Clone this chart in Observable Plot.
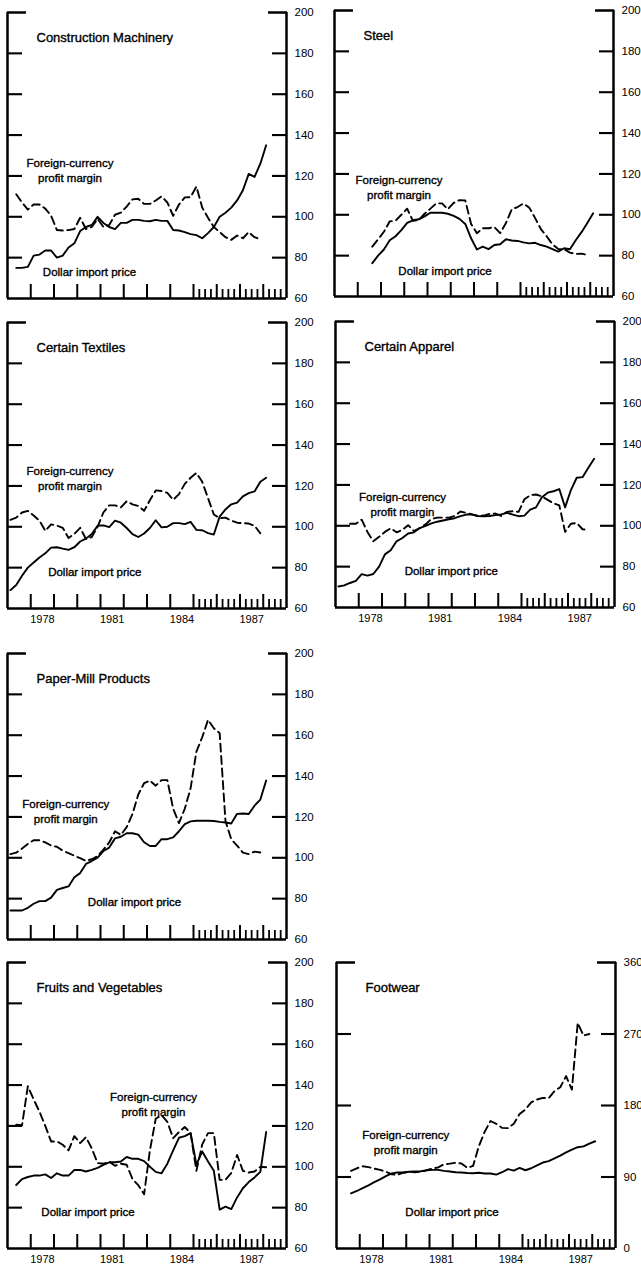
<!DOCTYPE html>
<html>
<head>
<meta charset="utf-8">
<script src="https://cdn.jsdelivr.net/npm/d3@7"></script>
<script src="https://cdn.jsdelivr.net/npm/@observablehq/plot@0.6"></script>
<style>
  html, body { margin: 0; padding: 0; background: #fff; overflow: hidden; }
  #chart { position: relative; width: 641px; height: 1267px; }
  .panel { position: absolute; }
</style>
</head>
<body>
<div id="chart"></div>
<script>
// ---------- Data (quarterly index values) ----------
const titles = ["Construction Machinery", "Steel", "Certain Textiles", "Certain Apparel",
                "Paper-Mill Products", "Fruits and Vegetables", "Footwear"];

const constructionPriceStart = "1977Q2";
const constructionPrice = [75, 75, 75.5, 81, 81.5, 83.5, 83.5, 80, 81, 85, 87, 93, 95, 96, 100, 97, 95, 94, 97, 97, 98.5, 98.5, 98, 97.8, 98.5, 98, 98, 93.5, 93.3, 92.5, 91.5, 91, 89.5, 92, 95, 100, 102, 104.5, 108, 113, 121, 119.5, 126, 135];
const constructionMarginStart = "1977Q2";
const constructionMargin = [111, 107, 103.5, 106, 106, 104, 100.5, 93.5, 93.3, 93.5, 94, 99.5, 94, 95, 99, 95, 96, 101, 102, 105, 108.5, 108.8, 106.3, 106.3, 108, 110, 107, 100.5, 106, 109.5, 109.6, 114.8, 104.5, 99.5, 95, 92.5, 90, 88.7, 90.8, 89.5, 92.5, 90, 89];

const steelPriceStart = "1978Q3";
const steelPrice = [76.3, 80, 83, 87.5, 89.5, 92.5, 96, 97.3, 97.8, 99.2, 101, 101, 101, 100.5, 99.5, 98, 95.5, 88.5, 83, 84.4, 83.2, 85.2, 85.6, 88, 87.4, 87.2, 86.5, 86, 86.3, 85.2, 84.4, 83.2, 82, 83.6, 83.1, 87.5, 91.5, 96, 100.7];
const steelMarginStart = "1978Q3";
const steelMargin = [84.4, 88, 91.7, 96.8, 97.1, 100, 103, 97, 97.5, 100.5, 103, 105.6, 105.6, 102.7, 105.8, 107.2, 107, 95.5, 91, 93.4, 93.4, 94, 91, 96, 102.7, 103.8, 105.5, 103.5, 98.5, 93, 89.5, 85.5, 83.2, 83.2, 81.5, 80.8, 81, 80.3];

const textilesPriceStart = "1977Q1";
const textilesPrice = [69, 71.5, 76, 80, 82.5, 85, 87, 89.8, 90, 89.3, 88.7, 90, 92.8, 94.2, 96.5, 100.5, 100.7, 99.8, 103, 102, 99.4, 96.4, 95, 96.7, 99.4, 103.2, 99.7, 100, 101.8, 101.8, 101.3, 102.4, 98.5, 98.3, 96.9, 96.2, 105, 108.5, 111, 111.8, 114.9, 116.5, 117.3, 122, 124];
const textilesMarginStart = "1977Q1";
const textilesMargin = [103.4, 104.5, 107, 107.8, 105.5, 103, 98, 101.2, 100.6, 99.5, 94.5, 96.5, 99.5, 94, 95, 100, 107, 110.5, 110.5, 109.5, 112.5, 111, 110.2, 107.8, 113, 117.8, 117.5, 116.6, 113.2, 116, 121, 124, 126.3, 122, 114, 106, 104.2, 104.5, 103, 102, 101.8, 101.6, 100.5, 96.8];

const apparelPriceStart = "1977Q1";
const apparelPrice = [70.3, 70.8, 72, 73, 76.3, 75.6, 76.4, 80, 86, 88, 92.4, 94, 96.2, 96.8, 98.9, 100, 101.2, 102, 102.6, 103.2, 103.7, 104.7, 105.5, 105.5, 104.8, 104.6, 104.8, 105.2, 105.6, 106.3, 105.5, 104.7, 105, 107.9, 109, 114, 116.2, 116.9, 118, 109, 117.5, 123.5, 123.8, 128.4, 132.8];
const apparelMarginStart = "1977Q3";
const apparelMargin = [101, 101, 103, 97, 92.4, 94.6, 97, 98.8, 96.8, 98, 100.3, 97.4, 98.9, 100.7, 103.3, 104, 104, 104, 104.8, 107, 106.3, 105.6, 104.8, 105, 105.8, 106, 104.8, 106.8, 107.1, 106.8, 113, 115, 115.3, 114.4, 112.7, 111, 110, 97, 101, 101.4, 98.3, 98];

const paperPriceStart = "1977Q1";
const paperPrice = [74.2, 74.2, 74.2, 75.5, 77.5, 78.8, 78.8, 80.5, 84.3, 85.2, 86, 90.5, 92.5, 97, 98.4, 100.1, 103.3, 105, 109.5, 110.3, 112, 112, 111.3, 107.6, 105.8, 105.8, 109.1, 109.1, 110, 113, 116.5, 117.8, 118.1, 118.1, 118.1, 118, 117.6, 117.3, 116.8, 121.5, 121.7, 121.4, 125.5, 128.5, 137.8];
const paperMarginStart = "1977Q1";
const paperMargin = [101.8, 102.5, 104.5, 106.8, 108.6, 108.6, 107.5, 106, 105.4, 103.5, 102.3, 101, 99.8, 98.5, 99.3, 100.9, 104, 107.5, 113, 111.2, 115, 121.4, 131, 136.5, 137.8, 135.3, 138, 138, 124, 117, 124, 134, 152, 159, 167.5, 163.4, 161, 118, 109, 106, 102.5, 101.8, 103, 102.6];

const fruitsPriceStart = "1977Q2";
const fruitsPrice = [91.1, 94, 95, 95.7, 95.7, 96.3, 94.5, 96.8, 95.7, 95.7, 98.4, 98.5, 97.7, 98.5, 99.5, 100.9, 102.2, 102.2, 102.6, 104.8, 103.9, 103.9, 102.8, 100, 97.5, 96.8, 101.5, 108, 114.2, 115, 116.5, 101, 107.5, 102.6, 98, 79, 80.5, 79.3, 85, 89.5, 92.5, 94.8, 97.5, 117];
const fruitsMarginStart = "1977Q2";
const fruitsMargin = [120.6, 120.3, 139.4, 133, 127, 120, 112.4, 112.4, 110.8, 108, 115, 111.6, 114.5, 109, 101.8, 101.5, 102.5, 100.5, 101.5, 101, 94, 91, 86.5, 108, 123.5, 125.3, 122, 114, 117, 119.5, 116.5, 98, 111, 116.5, 116.5, 93.6, 93.6, 97, 105.8, 98, 97.2, 97.7, 100, 99.8];

const footwearPriceStart = "1977Q3";
const footwearPrice = [69.5, 72.4, 76, 79.5, 83.5, 87, 91, 94.5, 95.6, 95.6, 96.6, 96.9, 97.2, 98.3, 99, 99, 97.7, 97, 96, 95.6, 95, 94.8, 95.3, 94.4, 94.4, 93, 96, 100, 98, 101.5, 98.5, 101, 104.5, 108.2, 110, 113.5, 117, 121, 124.5, 127.5, 128.5, 132, 135];
const footwearMarginStart = "1977Q3";
const footwearMargin = [97.7, 101, 103.5, 102.5, 100.5, 99, 96.5, 93.3, 92.7, 95.4, 96.6, 96, 96.6, 98.5, 100.5, 102.2, 106, 106.8, 108, 107, 101.5, 104, 129, 147, 160.5, 157, 151.8, 151.5, 157, 169.3, 175, 184, 187.5, 189.5, 189.2, 198, 203, 217, 200, 284, 268, 270];

// axis tick values / labels
const yearTicks = [1978, 1979, 1980, 1981, 1982, 1983, 1984, 1985, 1986, 1987, 1988];
const quarterTicks = [1985.25, 1985.5, 1985.75, 1986.25, 1986.5, 1986.75, 1987.25, 1987.5, 1987.75, 1988.25, 1988.5, 1988.75];
const yearLabels = [1978, 1981, 1984, 1987];
const indexTicks = [80, 100, 120, 140, 160, 180];
const indexLabels = [60, 80, 100, 120, 140, 160, 180, 200];
const footwearTicks = [90, 180, 270];
const footwearLabels = [0, 90, 180, 270, 360];
const marginLabel = "Foreign-currency\nprofit margin";
const priceLabel = "Dollar import price";

// ---------- Helpers ----------
function quarterToYear(q) {
  const [y, n] = q.split("Q").map(Number);
  return y + (n - 1) * 0.25 + 0.125;
}
function rows(values, start) {
  const t0 = quarterToYear(start);
  return values.map((v, i) => ({date: t0 + i * 0.25, value: v}));
}

// ---------- Layout ----------
const FONT = "'Liberation Sans', Arial, Helvetica, sans-serif";
const panels = [
  {title: titles[0], price: rows(constructionPrice, constructionPriceStart), margin: rows(constructionMargin, constructionMarginStart),
   left: 0, top: 2, years: false, fc: [62.5, 143.5], dp: [82, 255]},
  {title: titles[1], price: rows(steelPrice, steelPriceStart), margin: rows(steelMargin, steelMarginStart),
   left: 327, top: 0, years: false, fc: [64.5, 163], dp: [110.5, 256]},
  {title: titles[2], price: rows(textilesPrice, textilesPriceStart), margin: rows(textilesMargin, textilesMarginStart),
   left: 0, top: 312, years: true, fc: [62.5, 142], dp: [87.3, 245]},
  {title: titles[3], price: rows(apparelPrice, apparelPriceStart), margin: rows(apparelMargin, apparelMarginStart),
   left: 328, top: 311, years: true, fc: [67, 169.3], dp: [115.8, 245]},
  {title: titles[4], price: rows(paperPrice, paperPriceStart), margin: rows(paperMargin, paperMarginStart),
   left: 0, top: 643, years: false, fc: [58.3, 143.8], dp: [127, 244.3]},
  {title: titles[5], price: rows(fruitsPrice, fruitsPriceStart), margin: rows(fruitsMargin, fruitsMarginStart),
   left: 0, top: 952, years: true, fc: [146, 127.7], dp: [80.5, 245.3]},
  {title: titles[6], price: rows(footwearPrice, footwearPriceStart), margin: rows(footwearMargin, footwearMarginStart),
   left: 329, top: 952, years: true, fc: [69.3, 166.2], dp: [115.5, 245.3], footwear: true}
];

const W = 326, H = 324, ML = 7, MR = 40, MT = 10, MB = 28;
const chart = document.getElementById("chart");
const heavy = {fill: "#000", stroke: "#000", strokeWidth: 0.35};

for (const p of panels) {
  const yDomain = p.footwear ? [0, 360] : [60, 200];
  const ticks = p.footwear ? footwearTicks : indexTicks;
  const labels = p.footwear ? footwearLabels : indexLabels;
  const marks = [
    Plot.ruleX([1977, 1989], {strokeWidth: 2.5, stroke: "#000"}),
    Plot.ruleY([yDomain[0]], {strokeWidth: 2.5, stroke: "#000"}),
    Plot.axisY(ticks, {anchor: "left", tickSize: -15, strokeWidth: 2.1, tickFormat: () => "", label: null}),
    Plot.axisY([yDomain[1]], {anchor: "left", tickSize: -19, strokeWidth: 2.5, tickFormat: () => "", label: null}),
    Plot.axisY(ticks, {anchor: "right", tickSize: -15, strokeWidth: 2.1, tickFormat: () => "", label: null}),
    Plot.axisY([yDomain[1]], {anchor: "right", tickSize: -19, strokeWidth: 2.5, tickFormat: () => "", label: null}),
    Plot.axisY(labels, {anchor: "right", tickSize: 0, tickPadding: 8, fontSize: 11.5, tickFormat: d => String(d), label: null}),
    Plot.axisX(yearTicks, {anchor: "bottom", tickSize: -14, strokeWidth: 2, tickFormat: () => "", label: null}),
    Plot.axisX(quarterTicks, {anchor: "bottom", tickSize: -9, strokeWidth: 1.8, tickFormat: () => "", label: null}),
    Plot.line(p.price, {x: "date", y: "value", stroke: "#000", strokeWidth: 1.9}),
    Plot.line(p.margin, {x: "date", y: "value", stroke: "#000", strokeWidth: 1.9, strokeDasharray: "8,4.5"}),
    Plot.text([p.title], {text: d => d, frameAnchor: "top-left", dx: 29, dy: 20, textAnchor: "start", fontSize: 13, ...heavy}),
    Plot.text([marginLabel], {text: d => d, frameAnchor: "top-left", dx: p.fc[0], dy: p.fc[1], textAnchor: "middle", fontSize: 11.5, lineHeight: 1.3, ...heavy}),
    Plot.text([priceLabel], {text: d => d, frameAnchor: "top-left", dx: p.dp[0], dy: p.dp[1], textAnchor: "middle", fontSize: 11.5, ...heavy})
  ];
  if (p.years) {
    marks.push(Plot.axisX(yearLabels.map(y => y + 0.5), {anchor: "bottom", tickSize: 0, tickPadding: 7, fontSize: 11, tickFormat: d => String(Math.floor(d)), label: null}));
  }
  const svg = Plot.plot({
    width: W, height: H,
    marginLeft: ML, marginRight: MR, marginTop: MT, marginBottom: MB,
    x: {domain: [1977, 1989], axis: null},
    y: {domain: yDomain, axis: null},
    style: {fontFamily: FONT, color: "#000", background: "transparent", maxWidth: "none", overflow: "visible"},
    marks
  });
  const div = document.createElement("div");
  div.className = "panel";
  div.style.left = p.left + "px";
  div.style.top = p.top + "px";
  div.style.width = W + "px";
  div.style.height = H + "px";
  div.appendChild(svg);
  chart.appendChild(div);
}
</script>
</body>
</html>
